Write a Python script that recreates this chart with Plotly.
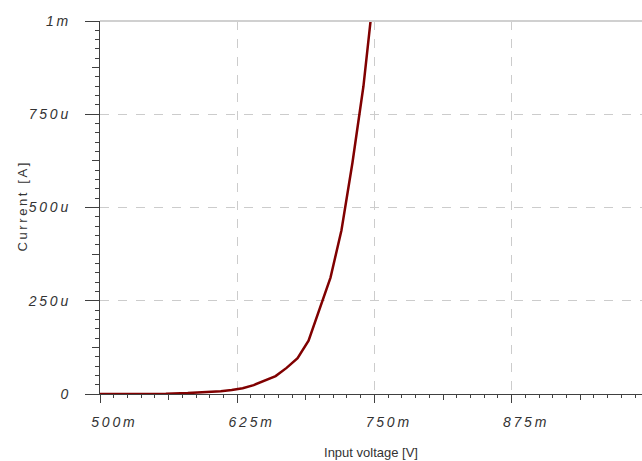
import plotly.graph_objects as go

# Data (diode I-V curve)
voltage = [0.50, 0.52, 0.54, 0.56, 0.58, 0.60, 0.61, 0.62, 0.63, 0.64, 0.65, 0.66,
           0.67, 0.68, 0.69, 0.70, 0.71, 0.72, 0.73, 0.74, 0.75]
current = [0.0, 0.0, 0.0, 0.5e-6, 2.5e-6, 5.4e-6, 7.7e-6, 10.7e-6, 15.5e-6, 23.9e-6,
           35.6e-6, 48e-6, 70e-6, 96e-6, 143e-6, 225e-6, 312e-6, 439e-6, 620e-6,
           825e-6, 1094e-6]

GAP = "\u2009"
def sp(s, gap=GAP):
    return gap.join(list(s))

x_tickvals = [0.5, 0.625, 0.75, 0.875, 1.0]
x_ticktext = [sp(t) for t in ["500m", "625m", "750m", "875m", "1"]]
y_tickvals = [0.0, 0.00025, 0.0005, 0.00075, 0.001]
y_ticktext = [sp(t) for t in ["0", "250u", "500u", "750u", "1m"]]
x_mid_ticks = [0.5625, 0.6875, 0.8125, 0.9375]
y_mid_ticks = [0.000125, 0.000375, 0.000625, 0.000875]
x_title = "Input voltage [V]"
y_title = "Current [A]"

x_range = [0.5, 0.9938]
y_range = [0.0, 0.001]

axis_col = "#404040"
grid_col = "#cccccc"
tick_font = dict(family="Liberation Sans, Arial, sans-serif", size=14, color="#333333", style="italic")
title_font = dict(family="Liberation Sans, Arial, sans-serif", size=13, color="#333333")

fig = go.Figure()
fig.add_trace(go.Scatter(x=voltage, y=current, mode="lines",
                         line=dict(color="#800000", width=2.5), showlegend=False))
# helper empty traces so the overlay tick axes are created
fig.add_trace(go.Scatter(x=[None], y=[None], xaxis="x2", yaxis="y", showlegend=False, hoverinfo="skip"))
fig.add_trace(go.Scatter(x=[None], y=[None], xaxis="x", yaxis="y2", showlegend=False, hoverinfo="skip"))

fig.update_layout(
    width=642, height=461,
    margin=dict(l=100, r=0, t=21, b=67),
    paper_bgcolor="white", plot_bgcolor="white",
    xaxis=dict(
        range=x_range, tickmode="array", tickvals=x_tickvals, ticktext=x_ticktext,
        showgrid=True, gridcolor=grid_col, griddash="dash", gridwidth=1,
        showline=True, linecolor=axis_col, linewidth=1, zeroline=False,
        ticks="outside", ticklen=8, tickcolor=axis_col, tickwidth=1,
        tickfont=tick_font, ticklabelstandoff=7, ticklabelshift=13, automargin=False,
        minor=dict(dtick=0.0125, tick0=0.5, ticks="outside", ticklen=3,
                   tickcolor=axis_col, showgrid=False),
        title=dict(text=x_title, font=title_font, standoff=19),
    ),
    xaxis2=dict(
        overlaying="x", anchor="y", side="bottom", range=x_range,
        tickmode="array", tickvals=x_mid_ticks, showticklabels=False,
        ticks="outside", ticklen=5, tickcolor=axis_col, showgrid=False,
        zeroline=False, showline=False, automargin=False,
    ),
    yaxis=dict(
        range=y_range, tickmode="array", tickvals=y_tickvals, ticktext=y_ticktext,
        showgrid=True, gridcolor=grid_col, griddash="dash", gridwidth=1,
        showline=True, linecolor=axis_col, linewidth=1, zeroline=False,
        ticks="outside", ticklen=14, tickcolor=axis_col, tickwidth=1,
        tickfont=tick_font, ticklabelstandoff=14, automargin=False,
        minor=dict(dtick=0.000025, tick0=0.0, ticks="outside", ticklen=4,
                   tickcolor=axis_col, showgrid=False),
    ),
    yaxis2=dict(
        overlaying="y", anchor="x", side="left", range=y_range,
        tickmode="array", tickvals=y_mid_ticks, showticklabels=False,
        ticks="outside", ticklen=7, tickcolor=axis_col, showgrid=False,
        zeroline=False, showline=False, automargin=False,
    ),
    shapes=[dict(type="line", xref="paper", yref="y domain", x0=0, x1=1, y0=1, y1=1,
                 line=dict(color="#d0d0d0", width=2), layer="above")],
    annotations=[dict(text=sp(y_title, "\u2009"), xref="paper", yref="paper",
                      x=(22 - 100) / 542, y=0.5, xanchor="center", yanchor="middle",
                      textangle=-90, showarrow=False, font=title_font)],
)

fig.write_html("out.html", config={"displayModeBar": False},
               post_script="document.body.style.margin='0';document.body.style.overflow='hidden';")
